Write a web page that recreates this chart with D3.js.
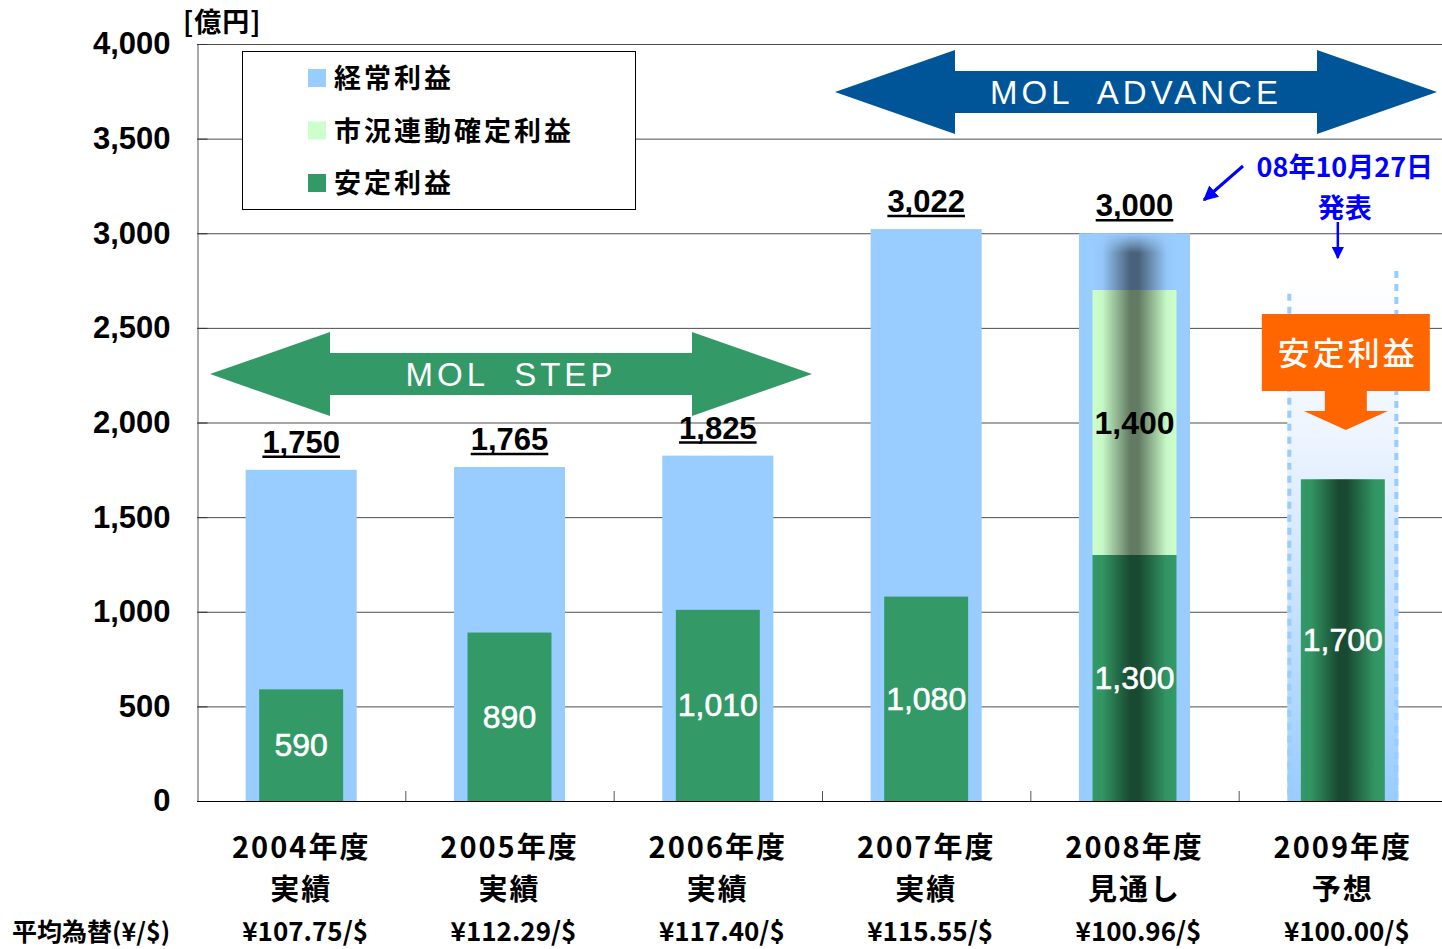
<!DOCTYPE html>
<html>
<head>
<meta charset="utf-8">
<script src="https://cdn.jsdelivr.net/npm/d3@7"></script>
<style>
  body { margin: 0; background: #fff; }
  svg { display: block; }
</style>
</head>
<body>
<div id="chart"></div>
<script>
// --- data ---
var categories = ["2004年度", "2005年度", "2006年度", "2007年度", "2008年度", "2009年度"];
var subLabels = ["実績", "実績", "実績", "実績", "見通し", "予想"];
var fxRates = ["¥107.75/$", "¥112.29/$", "¥117.40/$", "¥115.55/$", "¥100.96/$", "¥100.00/$"];
var ordinaryProfit = [1750, 1765, 1825, 3022, 3000, null];   // 経常利益
var marketProfit = [0, 0, 0, 0, 1400, 0];                    // 市況連動確定利益
var stableProfit = [590, 890, 1010, 1080, 1300, 1700];       // 安定利益
var yTicks = [0, 500, 1000, 1500, 2000, 2500, 3000, 3500, 4000];
var legendItems = ["経常利益", "市況連動確定利益", "安定利益"];

var colors = { ordinary: "#99ccff", market: "#ccffcc", stable: "#339966" };
var jp = "'Noto Sans CJK JP', sans-serif";
var num = "'Liberation Sans', Arial, sans-serif";

var width = 1442, height = 949;

var x = d3.scaleBand().domain(categories).range([197, 1447]);
var y = d3.scaleLinear().domain([0, 4000]).range([801, 44]);

var outerW = x.bandwidth() * 0.533,
    innerW = x.bandwidth() * 0.403;

var svg = d3.select("#chart").append("svg")
    .attr("width", width)
    .attr("height", height);

var defs = svg.append("defs");

// horizontal shading used on the forecast bars
var shade = defs.append("linearGradient").attr("id", "shade")
    .attr("x1", 0).attr("x2", 1).attr("y1", 0).attr("y2", 0);
[[0, 0], [0.12, 0.03], [0.3, 0.3], [0.45, 0.52], [0.55, 0.52], [0.7, 0.3], [0.88, 0.03], [1, 0]]
    .forEach(function(s) {
        shade.append("stop").attr("offset", s[0]).attr("stop-color", "#000").attr("stop-opacity", s[1]);
    });

var topFade = defs.append("linearGradient").attr("id", "topFade")
    .attr("x1", 0).attr("x2", 0).attr("y1", 0).attr("y2", 1);
topFade.append("stop").attr("offset", 0).attr("stop-color", colors.ordinary).attr("stop-opacity", 1);
topFade.append("stop").attr("offset", 0.35).attr("stop-color", colors.ordinary).attr("stop-opacity", 0);

var boxFill = defs.append("linearGradient").attr("id", "boxFill")
    .attr("x1", 0).attr("x2", 0).attr("y1", 0).attr("y2", 1);
boxFill.append("stop").attr("offset", 0).attr("stop-color", "#ffffff");
boxFill.append("stop").attr("offset", 0.3).attr("stop-color", "#eef5ff");
boxFill.append("stop").attr("offset", 1).attr("stop-color", "#99ccff");

// --- grid and axes ---
svg.append("g").selectAll("line")
    .data(yTicks.slice(1))
    .enter().append("line")
    .attr("x1", 197).attr("x2", 1447)
    .attr("y1", function(d) { return y(d) + 0.5; })
    .attr("y2", function(d) { return y(d) + 0.5; })
    .attr("stroke", "#4d4d4d").attr("stroke-width", 1);

var yAxis = svg.append("g")
    .attr("transform", "translate(197.5,0)")
    .call(d3.axisLeft(y).tickValues(yTicks).tickFormat(d3.format(",")).tickSize(-10).tickPadding(27));
yAxis.select(".domain").attr("stroke", "#555");
yAxis.selectAll(".tick line").attr("stroke", "#333");
yAxis.selectAll("text")
    .style("font-family", num).style("font-size", "31px").style("font-weight", "bold").attr("fill", "#000");

svg.append("text")
    .attr("x", 183).attr("y", 32)
    .style("font-family", jp).style("font-size", "27px").style("font-weight", "bold")
    .style("letter-spacing", "1px")
    .text("[億円]");

// --- bars ---
var bars = svg.append("g");

// 2009 forecast box (dashed outline, no value)
var fc = categories[5];
var fcX = x(fc) + (x.bandwidth() - outerW) / 2;
bars.append("rect")
    .attr("x", fcX).attr("y", y(2800))
    .attr("width", outerW).attr("height", y(0) - y(2800))
    .attr("fill", "url(#boxFill)");
bars.append("line")
    .attr("x1", fcX + 2).attr("x2", fcX + 2)
    .attr("y1", y(2680)).attr("y2", y(0))
    .attr("stroke", colors.ordinary).attr("stroke-width", 4).attr("stroke-dasharray", "7,6");
bars.append("line")
    .attr("x1", fcX + outerW - 2).attr("x2", fcX + outerW - 2)
    .attr("y1", y(2800)).attr("y2", y(0))
    .attr("stroke", colors.ordinary).attr("stroke-width", 4).attr("stroke-dasharray", "7,6");

categories.forEach(function(c, i) {
    var ox = x(c) + (x.bandwidth() - outerW) / 2,
        ix = x(c) + (x.bandwidth() - innerW) / 2,
        shaded = i >= 4;

    if (ordinaryProfit[i] != null) {
        bars.append("rect")
            .attr("x", ox).attr("y", y(ordinaryProfit[i]))
            .attr("width", outerW).attr("height", y(0) - y(ordinaryProfit[i]))
            .attr("fill", colors.ordinary);
    }
    bars.append("rect")
        .attr("x", ix).attr("y", y(stableProfit[i]))
        .attr("width", innerW).attr("height", y(0) - y(stableProfit[i]))
        .attr("fill", colors.stable);
    if (marketProfit[i] > 0) {
        var top = stableProfit[i] + marketProfit[i];
        bars.append("rect")
            .attr("x", ix).attr("y", y(top))
            .attr("width", innerW).attr("height", y(stableProfit[i]) - y(top))
            .attr("fill", colors.market);
    }
    if (shaded) {
        var shadeTop = ordinaryProfit[i] != null ? ordinaryProfit[i] : stableProfit[i];
        bars.append("rect")
            .attr("x", ix).attr("y", y(shadeTop))
            .attr("width", innerW).attr("height", y(0) - y(shadeTop))
            .attr("fill", "url(#shade)");
        if (ordinaryProfit[i] != null) {
            var segTop = stableProfit[i] + marketProfit[i];
            bars.append("rect")
                .attr("x", ix).attr("y", y(ordinaryProfit[i]))
                .attr("width", innerW).attr("height", y(segTop) - y(ordinaryProfit[i]))
                .attr("fill", "url(#topFade)");
        }
    }
});

// baseline and category ticks
svg.append("line")
    .attr("x1", 197).attr("x2", 1447).attr("y1", y(0) + 0.5).attr("y2", y(0) + 0.5)
    .attr("stroke", "#000").attr("stroke-width", 1.2);
svg.append("g").selectAll("line")
    .data(categories.slice(1))
    .enter().append("line")
    .attr("x1", function(d) { return x(d) + 0.5; })
    .attr("x2", function(d) { return x(d) + 0.5; })
    .attr("y1", y(0) - 10).attr("y2", y(0))
    .attr("stroke", "#555");

// --- value labels ---
var labels = svg.append("g");
categories.forEach(function(c, i) {
    var cx = x(c) + x.bandwidth() / 2;
    labels.append("text")
        .attr("x", cx).attr("y", (y(0) + y(stableProfit[i])) / 2 + 11)
        .attr("text-anchor", "middle")
        .attr("fill", "#fff")
        .style("font-family", num).style("font-size", "32px")
        .style("paint-order", "stroke").attr("stroke", "#fff").attr("stroke-width", 0.6)
        .text(d3.format(",")(stableProfit[i]));
    if (marketProfit[i] > 0) {
        labels.append("text")
            .attr("x", cx).attr("y", (y(stableProfit[i]) + y(stableProfit[i] + marketProfit[i])) / 2 + 11)
            .attr("text-anchor", "middle")
            .attr("fill", "#000")
            .style("font-family", num).style("font-size", "32px").style("font-weight", "bold")
            .text(d3.format(",")(marketProfit[i]));
    }
    if (ordinaryProfit[i] != null) {
        var t = labels.append("text")
            .attr("x", cx).attr("y", y(ordinaryProfit[i]) - 17)
            .attr("text-anchor", "middle")
            .style("font-family", num).style("font-size", "31px").style("font-weight", "bold")
            .text(d3.format(",")(ordinaryProfit[i]));
        var w = t.node().getComputedTextLength();
        labels.append("line")
            .attr("x1", cx - w / 2).attr("x2", cx + w / 2)
            .attr("y1", y(ordinaryProfit[i]) - 13).attr("y2", y(ordinaryProfit[i]) - 13)
            .attr("stroke", "#000").attr("stroke-width", 2.5);
    }
});

// --- category labels ---
var xl = svg.append("g")
    .style("font-family", jp).style("font-weight", "bold")
    .attr("text-anchor", "middle");
categories.forEach(function(c, i) {
    var cx = x(c) + x.bandwidth() / 2;
    xl.append("text").attr("x", cx).attr("y", 858).style("font-size", "29px")
        .style("letter-spacing", "2px").text(c);
    xl.append("text").attr("x", cx).attr("y", 900).style("font-size", "29px")
        .style("letter-spacing", "2px").text(subLabels[i]);
    xl.append("text").attr("x", cx + 4).attr("y", 941).style("font-size", "26px").text(fxRates[i]);
});
svg.append("text")
    .attr("x", 12).attr("y", 941)
    .style("font-family", jp).style("font-weight", "bold").style("font-size", "25px")
    .text("平均為替(¥/$)");

// --- legend ---
var legend = svg.append("g");
legend.append("rect")
    .attr("x", 242.5).attr("y", 51.5).attr("width", 393).attr("height", 158)
    .attr("fill", "#fff").attr("stroke", "#000");
var legendColors = [colors.ordinary, colors.market, colors.stable];
legendItems.forEach(function(d, i) {
    var cy = 78 + i * 52.5;
    legend.append("rect")
        .attr("x", 308).attr("y", cy - 9).attr("width", 18).attr("height", 18)
        .attr("fill", legendColors[i]);
    legend.append("text")
        .attr("x", 334).attr("y", cy + 10)
        .style("font-family", jp).style("font-size", "27px").style("font-weight", "bold")
        .style("letter-spacing", "3px")
        .text(d);
});

// --- period arrows ---
function periodArrow(fromCat, toCat, value, fill, label) {
    var x0 = x(fromCat) + 13,
        x1 = x(toCat) + x.bandwidth() - 10,
        cy = y(value),
        head = 120, hh = 42, sh = 21;
    var pts = [
        [x0, cy], [x0 + head, cy - hh], [x0 + head, cy - sh], [x1 - head, cy - sh],
        [x1 - head, cy - hh], [x1, cy], [x1 - head, cy + hh], [x1 - head, cy + sh],
        [x0 + head, cy + sh], [x0 + head, cy + hh]
    ];
    svg.append("polygon")
        .attr("points", pts.map(function(p) { return p.join(","); }).join(" "))
        .attr("fill", fill);
    svg.append("text")
        .attr("x", (x0 + x1) / 2).attr("y", cy + 12)
        .attr("text-anchor", "middle").attr("fill", "#fff")
        .style("font-family", num).style("font-size", "33px").style("letter-spacing", "4px")
        .attr("xml:space", "preserve")
        .text(label);
}
periodArrow(categories[0], categories[2], 2256, "#339966", "MOL  STEP");
periodArrow(categories[3], categories[5], 3746, "#005599", "MOL  ADVANCE");

// --- announcement note ---
defs.append("marker").attr("id", "ah")
    .attr("viewBox", "0 0 10 10").attr("refX", 9).attr("refY", 5)
    .attr("markerWidth", 5).attr("markerHeight", 5).attr("orient", "auto")
    .append("path").attr("d", "M0,0 L10,5 L0,10 z").attr("fill", "#0000ff");

var noteX = x(fc) + x.bandwidth() / 2;
svg.append("text")
    .attr("x", noteX + 2).attr("y", 177)
    .attr("text-anchor", "middle").attr("fill", "#0000ff")
    .style("font-family", jp).style("font-size", "27px").style("font-weight", "bold")
    .text("08年10月27日");
svg.append("text")
    .attr("x", noteX + 2).attr("y", 218)
    .attr("text-anchor", "middle").attr("fill", "#0000ff")
    .style("font-family", jp).style("font-size", "27px").style("font-weight", "bold")
    .text("発表");
svg.append("line")
    .attr("x1", 1243).attr("y1", 166).attr("x2", 1204).attr("y2", 200)
    .attr("stroke", "#0000ff").attr("stroke-width", 3).attr("marker-end", "url(#ah)");
svg.append("line")
    .attr("x1", noteX - 5).attr("y1", 222).attr("x2", noteX - 5).attr("y2", 258)
    .attr("stroke", "#0000ff").attr("stroke-width", 2.5).attr("marker-end", "url(#ah)");

// --- orange callout over the 2009 bar ---
var calloutCx = noteX + 3;
var callout = [
    [calloutCx - 84, 314], [calloutCx + 84, 314], [calloutCx + 84, 391], [calloutCx + 21, 391],
    [calloutCx + 21, 411], [calloutCx + 42, 411], [calloutCx, 430], [calloutCx - 42, 411],
    [calloutCx - 21, 411], [calloutCx - 21, 391], [calloutCx - 84, 391]
];
svg.append("polygon")
    .attr("points", callout.map(function(p) { return p.join(","); }).join(" "))
    .attr("fill", "#ff6600");
svg.append("text")
    .attr("x", calloutCx + 2).attr("y", 365)
    .attr("text-anchor", "middle").attr("fill", "#fff")
    .style("font-family", jp).style("font-size", "32px").style("font-weight", "500")
    .style("letter-spacing", "3px")
    .text("安定利益");
</script>
</body>
</html>
